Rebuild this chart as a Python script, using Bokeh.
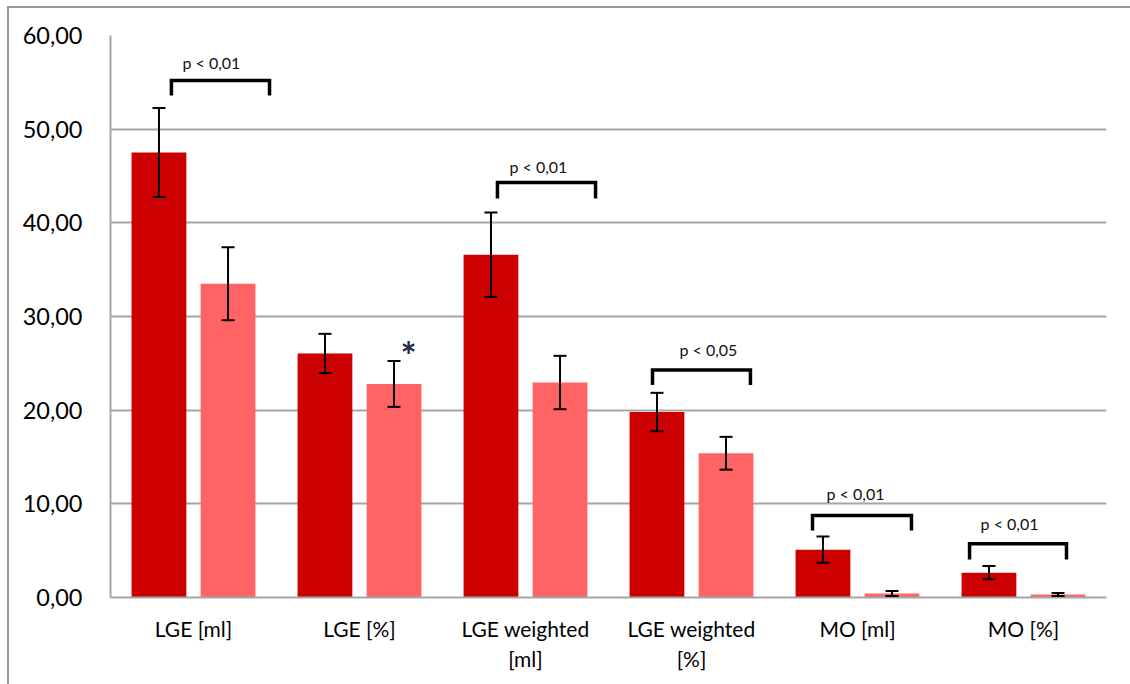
from bokeh.plotting import figure
from bokeh.models import ColumnDataSource, Whisker, TeeHead, FixedTicker, Range1d
from bokeh.core.properties import value
from bokeh.embed import file_html
from bokeh.resources import INLINE

# ---- data ----
categories = ["LGE [ml]", "LGE [%]", "LGE weighted\n[ml]", "LGE weighted\n[%]", "MO [ml]", "MO [%]"]
group_a = [47.5, 26.05, 36.6, 19.8, 5.1, 2.65]
group_a_err = [4.75, 2.1, 4.5, 2.05, 1.4, 0.7]
group_b = [33.5, 22.8, 22.95, 15.4, 0.43, 0.32]
group_b_err = [3.9, 2.45, 2.85, 1.75, 0.26, 0.15]

y_ticks = [0, 10, 20, 30, 40, 50, 60]
y_tick_labels = ["0,00", "10,00", "20,00", "30,00", "40,00", "50,00", "60,00"]

# significance brackets: x start, x end (category units), top y, tip y, label x, label y, label
br_x0 = [0.367, 2.331, 3.265, 4.229, 5.175]
br_x1 = [0.958, 2.922, 3.855, 4.825, 5.759]
br_top = [55.2, 44.3, 24.3, 8.75, 5.75]
br_tip = [53.6, 42.6, 22.7, 7.15, 4.05]
lab_x = [0.608, 2.578, 3.602, 4.488, 5.416]
lab_y = [57.1, 46.0, 26.5, 11.1, 7.9]
lab_text = ["p < 0,01", "p < 0,01", "p < 0,05", "p < 0,01", "p < 0,01"]

star_x = [1.795]
star_y = [25.9]

FONT = "Lato"
DARK = "#CC0000"
LIGHT = "#FF6363"
GRID = "#A5A5A5"

n = len(categories)
centers = [i + 0.5 for i in range(n)]
off = 0.208
xa = [c - off for c in centers]
xb = [c + off for c in centers]

p = figure(frame_width=996, frame_height=562, width=1130, height=684,
           x_range=Range1d(0, n), y_range=Range1d(0, 60),
           output_backend="svg", toolbar_location=None,
           min_border_left=110, min_border_right=24, min_border_top=35, min_border_bottom=87)
p.outline_line_color = None
p.background_fill_color = "white"
p.border_fill_color = "white"
p.border_fill_alpha = 0
# outer chart border (page-level frame around the whole chart)
p.styles = {
    "background-color": "white",
    "background-image": "linear-gradient(#9A9A9A, #9A9A9A), linear-gradient(#9A9A9A, #9A9A9A)",
    "background-size": "2px 100%, 100% 2px",
    "background-position": "7px 6px, 7px 6px",
    "background-repeat": "no-repeat",
}

src_a = ColumnDataSource(dict(x=xa, top=group_a,
                              upper=[v + e for v, e in zip(group_a, group_a_err)],
                              lower=[v - e for v, e in zip(group_a, group_a_err)]))
src_b = ColumnDataSource(dict(x=xb, top=group_b,
                              upper=[v + e for v, e in zip(group_b, group_b_err)],
                              lower=[v - e for v, e in zip(group_b, group_b_err)]))

p.vbar(x="x", top="top", bottom=0, width=0.33, source=src_a, fill_color=DARK, line_color=None)
p.vbar(x="x", top="top", bottom=0, width=0.33, source=src_b, fill_color=LIGHT, line_color=None)

for src in (src_a, src_b):
    w = Whisker(source=src, base="x", upper="upper", lower="lower",
                line_color="black", line_width=2, level="overlay",
                upper_head=TeeHead(size=13, line_color="black", line_width=2),
                lower_head=TeeHead(size=13, line_color="black", line_width=2))
    p.add_layout(w)

# brackets
xs = [[a, a, b, b] for a, b in zip(br_x0, br_x1)]
ys = [[t2, t1, t1, t2] for t1, t2 in zip(br_top, br_tip)]
p.multi_line(xs=xs, ys=ys, line_color="black", line_width=3.5, line_join="miter")

p.text(x=lab_x, y=lab_y, text=lab_text, text_font=value(FONT), text_font_size="16px",
       text_align="center", text_baseline="middle", text_color="#111111")

p.text(x=star_x, y=star_y, text=["*"], text_font=value(FONT), text_font_size="38px",
       text_font_style="bold", text_align="center", text_baseline="middle", text_color="#1F2A44")

# axes
p.xaxis.ticker = FixedTicker(ticks=centers)
p.xaxis.major_label_overrides = {c: lab for c, lab in zip(centers, categories)}
p.xaxis.major_tick_line_color = None
p.xaxis.minor_tick_line_color = None
p.xaxis.axis_line_color = GRID
p.xaxis.axis_line_width = 2
p.xaxis.major_label_text_font = FONT
p.xaxis.major_label_text_font_size = "21px"
p.xaxis.major_label_text_color = "black"
p.xaxis.major_label_standoff = 12

p.yaxis.ticker = FixedTicker(ticks=y_ticks)
p.yaxis.major_label_overrides = {t: l for t, l in zip(y_ticks, y_tick_labels)}
p.yaxis.major_tick_line_color = None
p.yaxis.minor_tick_line_color = None
p.yaxis.axis_line_color = GRID
p.yaxis.axis_line_width = 2
p.yaxis.major_label_text_font = FONT
p.yaxis.major_label_text_font_size = "23.5px"
p.yaxis.major_label_text_color = "black"
p.yaxis.major_label_standoff = 22

p.xgrid.grid_line_color = None
p.ygrid.grid_line_color = GRID
p.ygrid.grid_line_width = 2

open("out.html", "w").write(file_html(p, INLINE))
